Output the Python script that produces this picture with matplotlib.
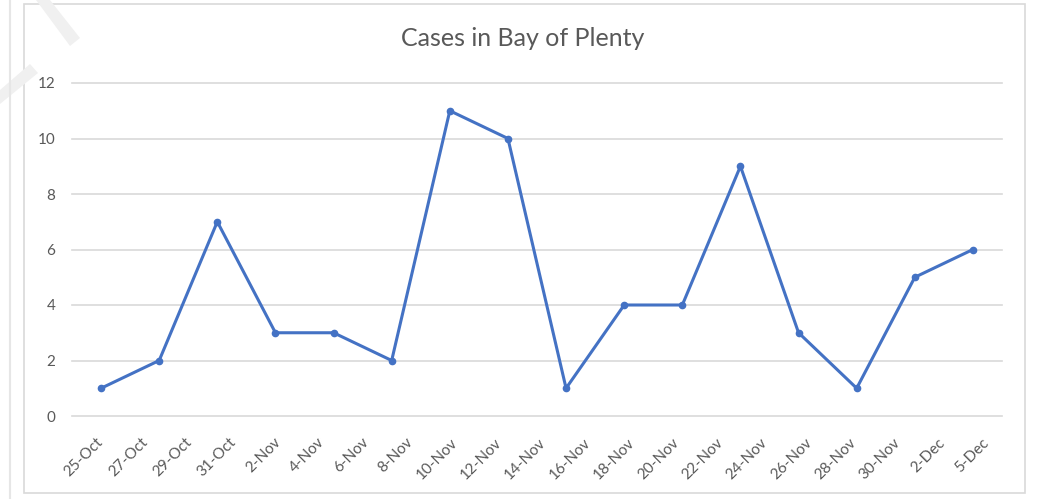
import matplotlib
matplotlib.use("Agg")
import matplotlib.pyplot as plt
from matplotlib.lines import Line2D
from matplotlib.patches import Rectangle, Polygon
import matplotlib.transforms as mtransforms
import numpy as np

plt.rcParams['font.family'] = ['Lato', 'DejaVu Sans']

title = "Cases in Bay of Plenty"
cases = [1, 2, 7, 3, 3, 2, 11, 10, 1, 4, 4, 9, 3, 1, 5, 6]
tick_labels = ["25-Oct", "27-Oct", "29-Oct", "31-Oct", "2-Nov", "4-Nov", "6-Nov",
               "8-Nov", "10-Nov", "12-Nov", "14-Nov", "16-Nov", "18-Nov", "20-Nov",
               "22-Nov", "24-Nov", "26-Nov", "28-Nov", "30-Nov", "2-Dec", "5-Dec"]
y_ticks = [0, 2, 4, 6, 8, 10, 12]

W, H = 1041, 499
fig = plt.figure(figsize=(W / 100, H / 100), dpi=100)

def fx(px):
    return px / W

def fy(py):
    return 1 - py / H

# decorative frame lines and watermark strokes
fig.add_artist(Line2D([fx(10), fx(10)], [0, 1], color="#e6e6e6", lw=1.5))
fig.add_artist(Rectangle((fx(24), fy(493)), fx(1025) - fx(24), fy(4) - fy(493),
                         fill=False, edgecolor="#d9d9d9", lw=1.2))
for pts in ([(36, 0), (50, 0), (80, 38), (70, 46)],
            [(0, 104), (0, 90), (30, 64), (38, 73)]):
    fig.add_artist(Polygon([(fx(a), fy(b)) for a, b in pts], closed=True,
                           facecolor="#f0f0f0", edgecolor="none"))

ax = fig.add_axes([fx(72), fy(416), fx(1002) - fx(72), fy(83) - fy(416)])
x = np.arange(len(cases))
ax.plot(x, cases, color="#4472C4", lw=2.2, marker="o", markersize=4.5,
        solid_joinstyle="round", zorder=3)

ax.set_xlim(-0.5, len(cases) - 0.5)
ax.set_ylim(0, 12)
ax.set_yticks(y_ticks)
ax.set_yticklabels([str(v) for v in y_ticks], fontsize=11, color="#595959")
for v in y_ticks:
    ax.axhline(v, color="#d9d9d9", lw=1.2, zorder=1, clip_on=False)
ax.tick_params(axis='y', length=0, pad=12)
for s in ax.spines.values():
    s.set_visible(False)

n = len(tick_labels)
span = len(cases)
pos = [-0.5 + (i + 0.5) * span / n for i in range(n)]
ax.set_xticks(pos)
ax.set_xticklabels(tick_labels, rotation=45, ha="right", va="top",
                   rotation_mode="anchor", fontsize=11, color="#595959")
ax.tick_params(axis='x', length=0, pad=14)
offset = mtransforms.ScaledTranslation(2 / 100, 0, fig.dpi_scale_trans)
for lbl in ax.get_xticklabels():
    lbl.set_transform(lbl.get_transform() + offset)

fig.text(fx(523), fy(39), title, ha="center", va="center", fontsize=18,
         color="#595959")

fig.savefig("out.png", dpi=100, facecolor="white")
